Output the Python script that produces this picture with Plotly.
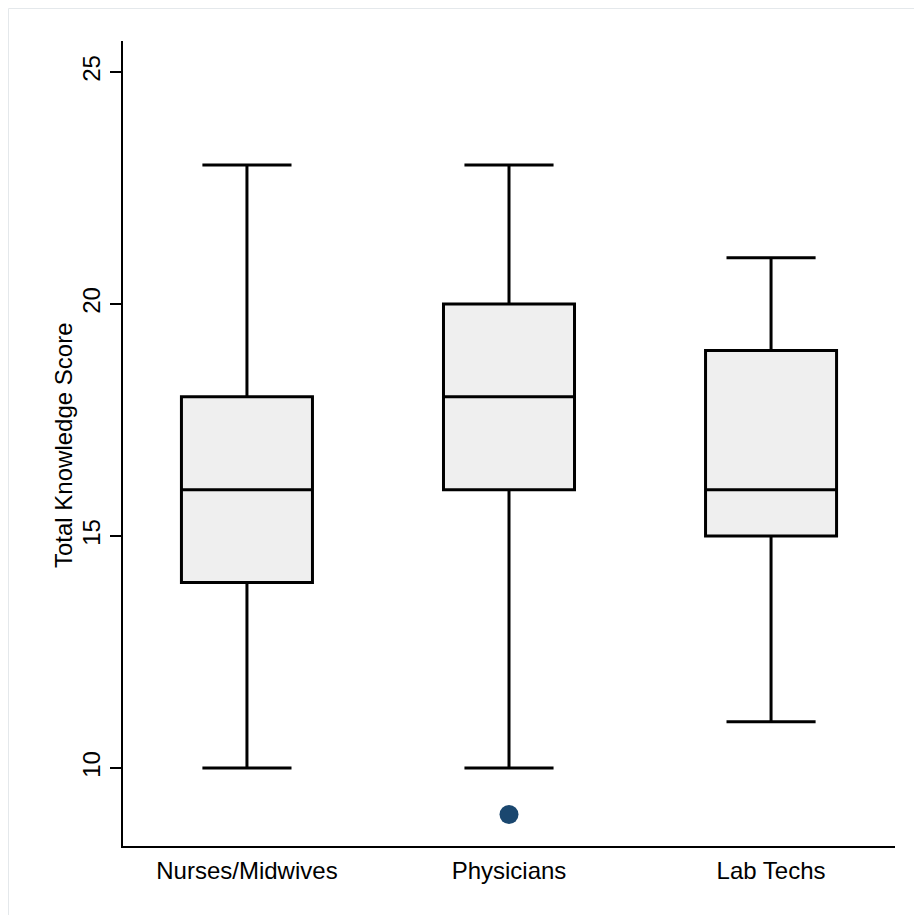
import plotly.graph_objects as go

categories = ["Nurses/Midwives", "Physicians", "Lab Techs"]
lower_fence = [10, 10, 11]
q1 = [14, 16, 15]
median = [16, 18, 16]
q3 = [18, 20, 19]
upper_fence = [23, 23, 21]
outlier_cat = ["Physicians"]
outlier_val = [9]
y_ticks = [10, 15, 20, 25]

fig = go.Figure()
fig.add_trace(go.Box(
    x=categories,
    q1=q1, median=median, q3=q3,
    lowerfence=lower_fence, upperfence=upper_fence,
    width=0.5, whiskerwidth=0.68,
    fillcolor="#efefef",
    line=dict(color="black", width=3),
    boxpoints=False,
    showlegend=False,
))
fig.add_trace(go.Scatter(
    x=outlier_cat, y=outlier_val, mode="markers",
    marker=dict(color="#1a476f", size=19, line=dict(width=0)),
    showlegend=False,
))

# page body adds an 8px offset; figure coords = reference pixels - 8
W, H = 914, 907
L, R, T, B = 115, 887, 33, 838
pw, ph = R - L, B - T

fig.update_layout(
    width=W, height=H,
    margin=dict(l=L, r=W - R, t=T, b=H - B, autoexpand=False),
    paper_bgcolor="white", plot_bgcolor="white",
    font=dict(family="Liberation Sans, Arial, sans-serif", size=24, color="black"),
    xaxis=dict(
        type="category", range=[-0.473, 2.473],
        showline=True, linecolor="black", linewidth=2,
        ticks="outside", ticklen=2, tickcolor="rgba(0,0,0,0)",
        showgrid=False, zeroline=False, automargin=False,
        tickfont=dict(size=24),
    ),
    yaxis=dict(
        range=[8.32, 25.67], tickvals=y_ticks,
        showline=True, linecolor="black", linewidth=2,
        ticks="outside", ticklen=11, tickwidth=2, tickcolor="black",
        tickangle=-90, tickfont=dict(size=24),
        showgrid=False, zeroline=False, automargin=False,
    ),
    annotations=[dict(
        text="Total Knowledge Score", textangle=-90,
        xref="paper", yref="paper",
        x=(56 - L) / pw, y=(B - 438) / ph,
        xanchor="center", yanchor="middle", showarrow=False,
        font=dict(size=24),
    )],
    shapes=[dict(
        type="rect", xref="paper", yref="paper",
        x0=(0.5 - L) / pw, x1=(W + 20 - L) / pw,
        y0=(B - (H + 20)) / ph, y1=(B - 0.5) / ph,
        line=dict(color="#e4e8eb", width=1), fillcolor="rgba(0,0,0,0)", layer="below",
    )],
)

fig.write_html("out.html")
